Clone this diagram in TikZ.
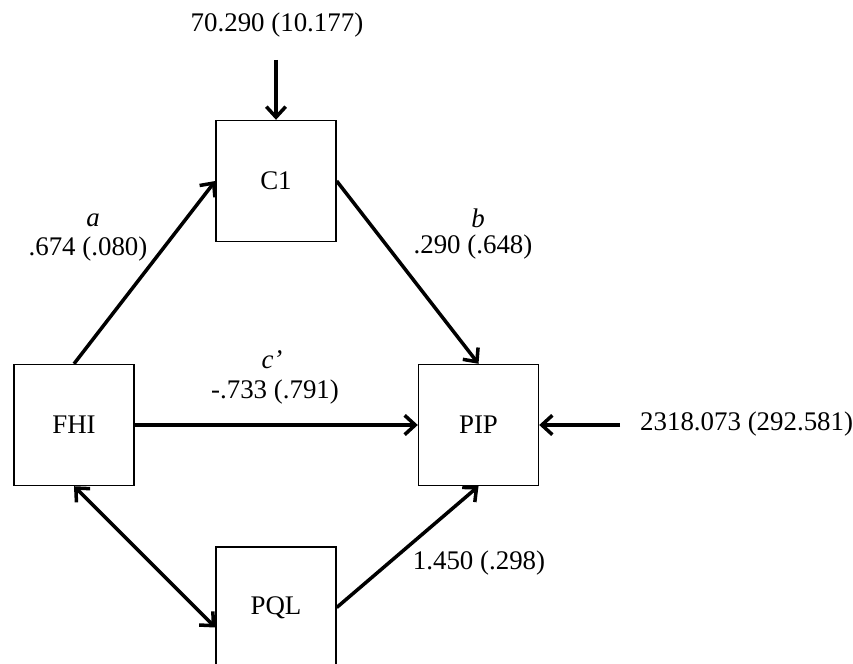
\documentclass[tikz,border=0pt]{standalone}
\usepackage{fontspec}
\setmainfont{Liberation Serif}
\usepackage{tikz}
\usetikzlibrary{arrows.meta, positioning}

\begin{document}
\begin{tikzpicture}[
    every node/.style={font=\fontsize{15.3}{18}\selectfont},
    var/.style={draw, line width=0.8pt, minimum width=2.4cm, minimum height=2.42cm},
    path/.style={line width=2pt, -{Straight Barb[length=6pt, width=11pt, line width=2pt]}},
    covpath/.style={line width=2pt, {Straight Barb[length=6pt, width=11pt, line width=2pt]}-{Straight Barb[length=6pt, width=11pt, line width=2pt]}},
]
    \useasboundingbox (0, 0) rectangle (17.06, -13.28);

    % Variables
    \node[var] (c1)  at (5.52, -3.62)  {C1};
    \node[var] (fhi) at (1.48, -8.50)  {FHI};
    \node[var] (pip) at (9.57, -8.50)  {PIP};
    \node[var] (pql) at (5.52, -12.15) {PQL};

    % Error terms
    \node (errc1)  at (5.54, -0.50) {70.290 (10.177)};
    \node[anchor=west] (errpip) at (12.68, -8.48) {2318.073 (292.581)};
    \coordinate (errc1end)  at (5.52, -1.20);
    \coordinate (errpipend) at (12.40, -8.50);
    \draw[path] (errc1end) -- (c1.north);
    \draw[path] (errpipend) -- (pip.east);

    % Paths
    \draw[path] (fhi.north) -- (c1.west);
    \draw[path] (c1.east) -- (pip.north);
    \draw[path] (fhi.east) -- (pip.west);
    \draw[path] (pql.east) -- (pip.south);
    \draw[covpath] (fhi.south) -- ([yshift=-0.4cm]pql.west);

    % Coefficients
    \node (laba) at (1.86, -4.40) {\textit{a}};
    \node (vala) at (1.76, -4.98) {.674 (.080)};
    \node (labb) at (9.56, -4.36) {\textit{b}};
    \node (valb) at (9.46, -4.94) {.290 (.648)};
    \node (labc) at (5.44, -7.20) {\textit{c’}};
    \node (valc) at (5.50, -7.84) {-.733 (.791)};
    \node (valq) at (9.58, -11.26) {1.450 (.298)};
\end{tikzpicture}
\end{document}
